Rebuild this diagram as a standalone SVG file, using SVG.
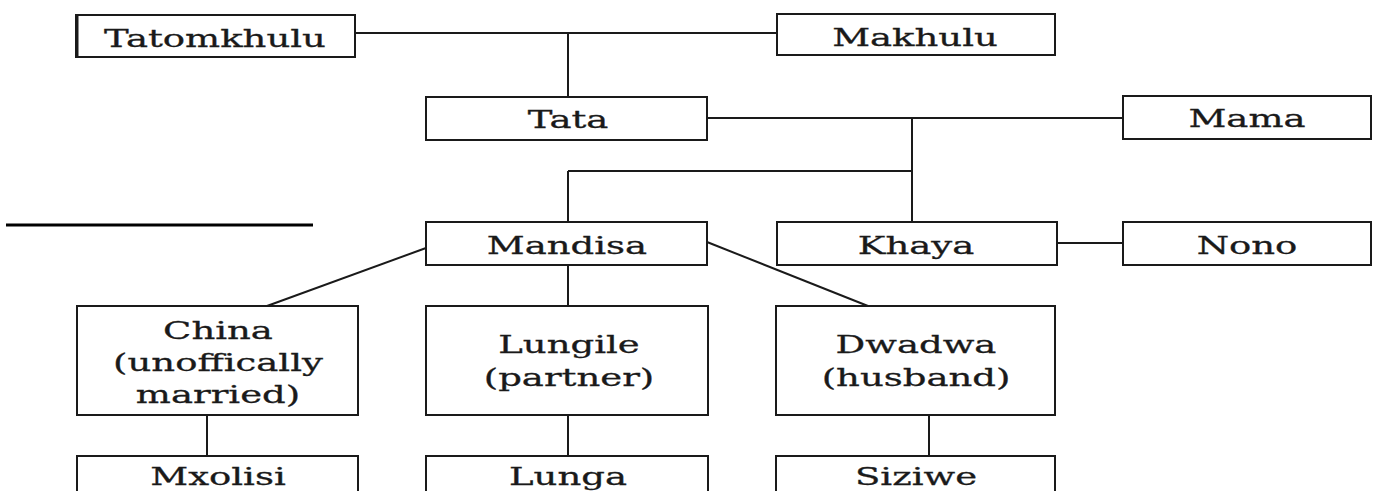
<svg xmlns="http://www.w3.org/2000/svg" width="1373" height="491" viewBox="0 0 1373 491">
<style>
.box{fill:#fff;stroke:#1a1a1a;stroke-width:2}
.ln{stroke:#1a1a1a;stroke-width:2;fill:none}
.t{font-family:"DejaVu Serif","Liberation Serif",serif;font-size:25px;fill:#1a1a1a;stroke:#1a1a1a;stroke-width:0.3;text-anchor:middle}
</style>
<rect width="1373" height="491" fill="#fff"/>
<g id="connectors">
<line class="ln" x1="355" y1="33" x2="777" y2="33"/>
<line class="ln" x1="568" y1="33" x2="568" y2="97"/>
<line class="ln" x1="707" y1="118" x2="1123" y2="118"/>
<line class="ln" x1="912" y1="118" x2="912" y2="222"/>
<line class="ln" x1="568" y1="171" x2="912" y2="171"/>
<line class="ln" x1="568" y1="171" x2="568" y2="222"/>
<line class="ln" x1="1057" y1="243" x2="1123" y2="243"/>
<line class="ln" x1="426" y1="248" x2="267" y2="306"/>
<line class="ln" x1="568" y1="265" x2="568" y2="306"/>
<line class="ln" x1="707" y1="242" x2="868" y2="306"/>
<line class="ln" x1="207" y1="415" x2="207" y2="456"/>
<line class="ln" x1="568" y1="415" x2="568" y2="456"/>
<line class="ln" x1="929" y1="415" x2="929" y2="456"/>
<line x1="6" y1="225" x2="313" y2="225" stroke="#000" stroke-width="3"/>
</g>
<g id="tatomkhulu"><rect class="box" x="76" y="15" width="279" height="42"/><line x1="77" y1="15" x2="77" y2="57" stroke="#1a1a1a" stroke-width="3"/><text class="t" transform="translate(215,47) scale(1.48,1)">Tatomkhulu</text></g>
<g id="makhulu"><rect class="box" x="777" y="14" width="278" height="41"/><text class="t" transform="translate(915,46) scale(1.48,1)">Makhulu</text></g>
<g id="tata"><rect class="box" x="426" y="97" width="281" height="43"/><text class="t" transform="translate(568,128) scale(1.48,1)">Tata</text></g>
<g id="mama"><rect class="box" x="1123" y="96" width="248" height="43"/><text class="t" transform="translate(1247,127) scale(1.48,1)">Mama</text></g>
<g id="mandisa"><rect class="box" x="426" y="222" width="281" height="43"/><text class="t" transform="translate(567,254) scale(1.48,1)">Mandisa</text></g>
<g id="khaya"><rect class="box" x="777" y="222" width="280" height="43"/><text class="t" transform="translate(916,254) scale(1.48,1)">Khaya</text></g>
<g id="nono"><rect class="box" x="1123" y="222" width="248" height="43"/><text class="t" transform="translate(1247,254) scale(1.48,1)">Nono</text></g>
<g id="china"><rect class="box" x="77" y="306" width="281" height="109"/><text class="t" transform="translate(218,339) scale(1.48,1)">China</text><text class="t" transform="translate(218,371) scale(1.48,1)">(unoffically</text><text class="t" transform="translate(218,403) scale(1.48,1)">married)</text></g>
<g id="lungile"><rect class="box" x="426" y="306" width="282" height="109"/><text class="t" transform="translate(569,353) scale(1.48,1)">Lungile</text><text class="t" transform="translate(569,386) scale(1.48,1)">(partner)</text></g>
<g id="dwadwa"><rect class="box" x="776" y="306" width="279" height="109"/><text class="t" transform="translate(916,353) scale(1.48,1)">Dwadwa</text><text class="t" transform="translate(916,386) scale(1.48,1)">(husband)</text></g>
<g id="mxolisi"><rect class="box" x="77" y="456" width="281" height="50"/><text class="t" transform="translate(218,485) scale(1.48,1)">Mxolisi</text></g>
<g id="lunga"><rect class="box" x="426" y="456" width="282" height="50"/><text class="t" transform="translate(568,485) scale(1.48,1)">Lunga</text></g>
<g id="siziwe"><rect class="box" x="776" y="456" width="279" height="50"/><text class="t" transform="translate(916,485) scale(1.48,1)">Siziwe</text></g>
</svg>
